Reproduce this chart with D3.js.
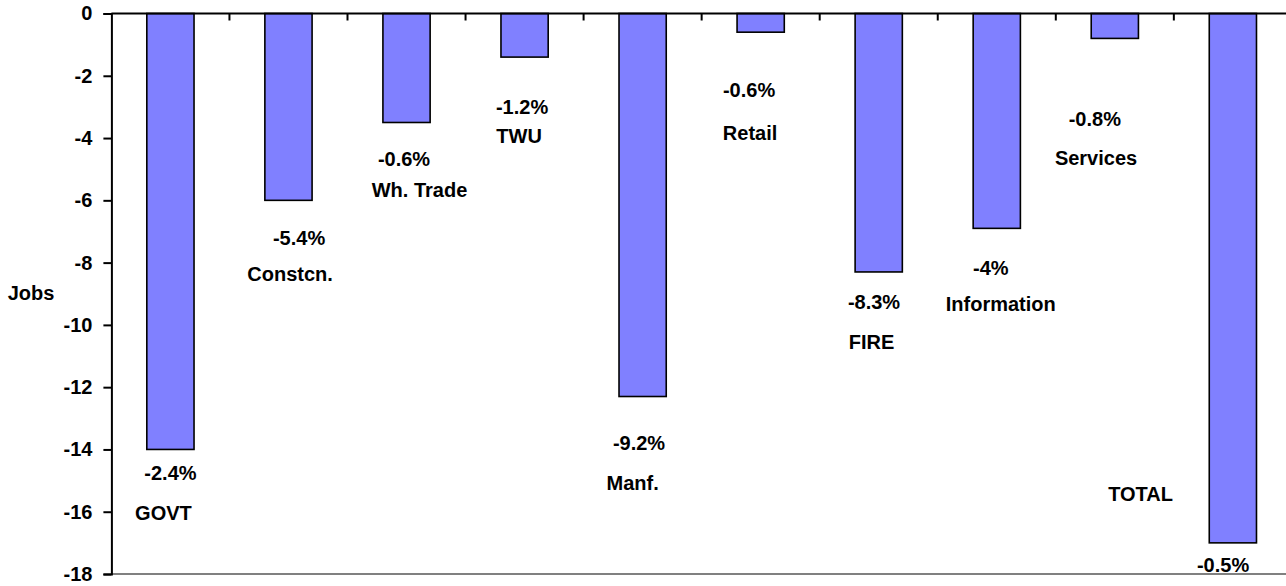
<!DOCTYPE html>
<html>
<head>
<meta charset="utf-8">
<script src="https://cdn.jsdelivr.net/npm/d3@7"></script>
<style>
  html, body { margin: 0; padding: 0; background: #fff; overflow: hidden; }
  svg { display: block; }
  svg text { font-family: "Liberation Sans", Arial, sans-serif !important; font-weight: 700 !important; font-size: 20px !important; fill: #000 !important; }
</style>
</head>
<body>
<svg id="chart" width="1286" height="586"></svg>
<script>
// ---- data ----
const categories = ["GOVT", "Constcn.", "Wh. Trade", "TWU", "Manf.", "Retail", "FIRE", "Information", "Services", "TOTAL"];
const jobs = [-14, -6, -3.5, -1.4, -12.3, -0.6, -8.3, -6.9, -0.8, -17];
const pctLabels = ["-2.4%", "-5.4%", "-0.6%", "-1.2%", "-9.2%", "-0.6%", "-8.3%", "-4%", "-0.8%", "-0.5%"];
const yTicks = [0, -2, -4, -6, -8, -10, -12, -14, -16, -18];
const yTitle = "Jobs";

// ---- label layout (annotation placement: x offset px from band centre, y in data units) ----
const pctLayout = [
  [0, -14.97], [10.6, -7.43], [-2.5, -4.89], [-2.5, -3.22], [-3.6, -14.03],
  [-11.6, -2.67], [-4.7, -9.48], [-6, -8.39], [-20, -3.61], [-9.8, -17.93]
];
const nameLayout = [
  [-7, -16.27], [1.6, -8.6], [13, -5.89], [-5.5, -4.15], [-10, -15.31],
  [-10.6, -4.06], [-7.2, -10.76], [4, -9.57], [-18.8, -4.86], [-92.3, -15.67]
];

// ---- layout ----
const svg = d3.select("#chart");
const x0 = 111.4, step = 118.05;
const x = d3.scaleBand().domain(categories).range([x0, x0 + step * categories.length]).paddingInner(0).paddingOuter(0);
const y = d3.scaleLinear().domain([0, -18]).range([13.5, 574]);
const barW = x.bandwidth() * 0.4;
const cx = c => x(c) + x.bandwidth() / 2;

// bars
svg.append("g").selectAll("rect").data(categories).join("rect")
  .attr("x", c => cx(c) - barW / 2)
  .attr("y", y(0))
  .attr("width", barW)
  .attr("height", (c, i) => y(jobs[i]) - y(0))
  .attr("fill", "#8080FF")
  .attr("stroke", "#000")
  .attr("stroke-width", 1.6);

// bottom gray line
svg.append("line")
  .attr("x1", x0).attr("x2", 1286)
  .attr("y1", y(-18)).attr("y2", y(-18))
  .attr("stroke", "#808080").attr("stroke-width", 2);

// top zero axis with ticks at band boundaries
const bounds = d3.range(categories.length + 1).map(i => x0 + i * step);
svg.append("line")
  .attr("x1", x0).attr("x2", 1286)
  .attr("y1", y(0)).attr("y2", y(0))
  .attr("stroke", "#000").attr("stroke-width", 2);
svg.append("g").selectAll("line").data(bounds.slice(1)).join("line")
  .attr("x1", d => d).attr("x2", d => d)
  .attr("y1", y(0)).attr("y2", y(0) + 7)
  .attr("stroke", "#000").attr("stroke-width", 2);

// y axis
const yAxis = d3.axisLeft(y).tickValues(yTicks).tickSize(8).tickPadding(11).tickFormat(d => d === 0 ? "0" : "-" + Math.abs(d));
const gy = svg.append("g").attr("transform", `translate(${x0},0)`).call(yAxis)
  .attr("font-family", '"Liberation Sans", Arial, sans-serif')
  .attr("font-size", 20)
  .attr("font-weight", "bold");
gy.select(".domain").attr("stroke", "#000").attr("stroke-width", 2);
gy.selectAll(".tick line").attr("stroke", "#000").attr("stroke-width", 2);
gy.selectAll(".tick text").attr("fill", "#000").attr("font-weight", "bold");

// y title
svg.append("text").attr("x", 31).attr("y", 300).attr("text-anchor", "middle").text(yTitle);

// percent labels
svg.append("g").selectAll("text").data(categories).join("text")
  .attr("text-anchor", "middle")
  .attr("x", (c, i) => cx(c) + pctLayout[i][0])
  .attr("y", (c, i) => y(pctLayout[i][1]))
  .text((c, i) => pctLabels[i]);

// category labels
svg.append("g").selectAll("text").data(categories).join("text")
  .attr("text-anchor", "middle")
  .attr("x", (c, i) => cx(c) + nameLayout[i][0])
  .attr("y", (c, i) => y(nameLayout[i][1]))
  .text(c => c);
</script>
</body>
</html>
